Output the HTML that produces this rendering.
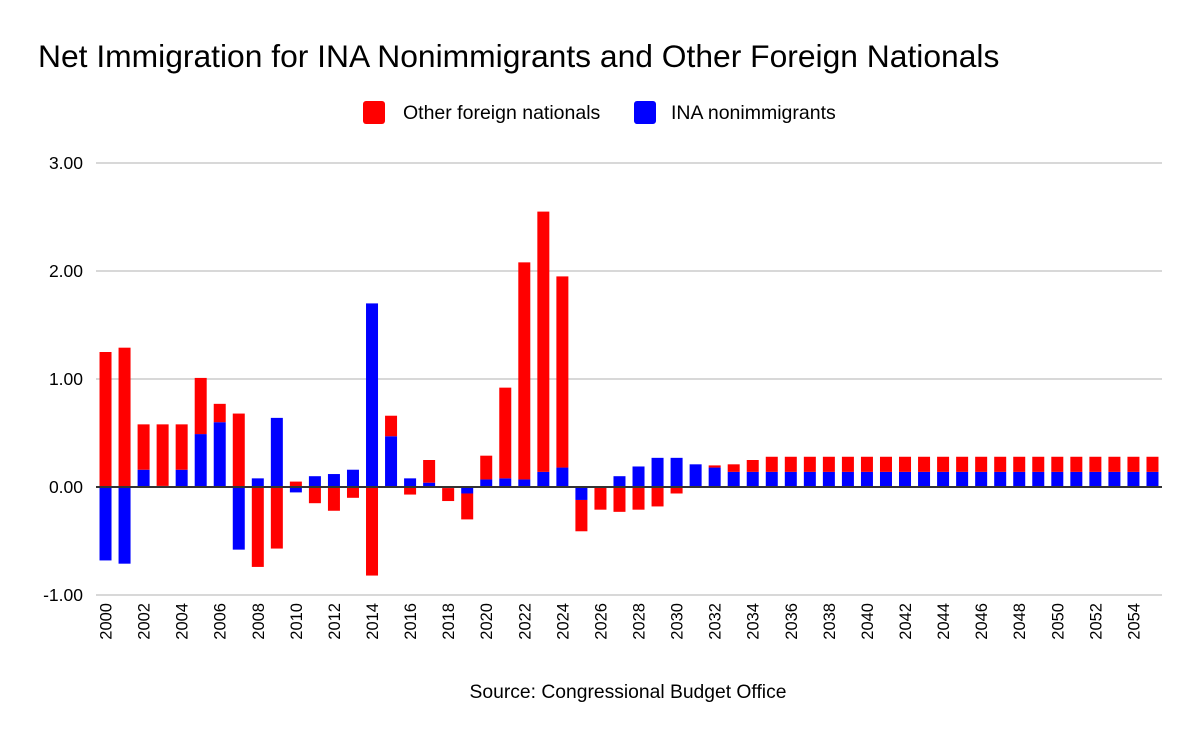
<!DOCTYPE html>
<html><head><meta charset="utf-8"><style>
body{margin:0;background:#fff;font-family:"Liberation Sans",Arial,sans-serif}
svg text{font-family:"Liberation Sans",Arial,sans-serif}
</style></head><body>
<svg id="chart" width="1200" height="742" viewBox="0 0 1200 742">
<rect width="1200" height="742" fill="#fff"/>
<text x="38" y="67" font-size="31.8" fill="#000">Net Immigration for INA Nonimmigrants and Other Foreign Nationals</text>
<g>
<rect x="363" y="101" width="22" height="23" rx="3" fill="#ff0000"/>
<text x="403" y="119" font-size="19.5">Other foreign nationals</text>
<rect x="634" y="101" width="22" height="23" rx="3" fill="#0000ff"/>
<text x="671" y="119" font-size="19.5">INA nonimmigrants</text>
</g>
<g id="grid"></g>
<g id="bars"></g>
<line x1="96" x2="1162" y1="487" y2="487" stroke="#333" stroke-width="2"/>
<g id="xlabels"></g>
<text x="628" y="698" font-size="19.3" text-anchor="middle">Source: Congressional Budget Office</text>
</svg>
<script>
const years = [];
for (let y = 2000; y <= 2055; y++) years.push(y);
const inaValues = [-0.68,-0.71,0.16,0.01,0.16,0.49,0.60,-0.58,0.08,0.64,-0.05,0.10,0.12,0.16,1.70,0.47,0.08,0.04,-0.01,-0.06,0.07,0.08,0.07,0.14,0.18,-0.12,0,0.10,0.19,0.27,0.27,0.21,0.18,0.14,0.14,0.14,0.14,0.14,0.14,0.14,0.14,0.14,0.14,0.14,0.14,0.14,0.14,0.14,0.14,0.14,0.14,0.14,0.14,0.14,0.14,0.14];
const otherValues = [1.25,1.29,0.42,0.57,0.42,0.52,0.17,0.68,-0.74,-0.57,0.05,-0.15,-0.22,-0.10,-0.82,0.19,-0.07,0.21,-0.12,-0.24,0.22,0.84,2.01,2.41,1.77,-0.29,-0.21,-0.23,-0.21,-0.18,-0.06,0,0.02,0.07,0.11,0.14,0.14,0.14,0.14,0.14,0.14,0.14,0.14,0.14,0.14,0.14,0.14,0.14,0.14,0.14,0.14,0.14,0.14,0.14,0.14,0.14];
const yTicks = [-1, 0, 1, 2, 3];
const yTickLabels = ["-1.00","0.00","1.00","2.00","3.00"];

const NS = "http://www.w3.org/2000/svg";
const plotL = 96, plotR = 1162;
const yScale = v => 487 - v * 108;
const step = (plotR - plotL) / years.length;
const xCenter = i => plotL + step * (i + 0.5);
const barW = 12;

const grid = document.getElementById('grid');
yTicks.forEach((t, i) => {
  if (t !== 0) {
    const l = document.createElementNS(NS, 'line');
    l.setAttribute('x1', plotL); l.setAttribute('x2', plotR);
    l.setAttribute('y1', yScale(t)); l.setAttribute('y2', yScale(t));
    l.setAttribute('stroke', '#cccccc'); l.setAttribute('stroke-width', '1.5');
    
    
    grid.appendChild(l);
  }
  const tx = document.createElementNS(NS, 'text');
  tx.setAttribute('x', 83); tx.setAttribute('y', yScale(t) + 6);
  tx.setAttribute('text-anchor', 'end'); tx.setAttribute('font-size', '17.5');
  tx.setAttribute('fill', '#000');
  tx.textContent = yTickLabels[i];
  
  
  grid.appendChild(tx);
});

const bars = document.getElementById('bars');
function addBar(i, v0, v1, color, name) {
  if (v0 === v1) return;
  const r = document.createElementNS(NS, 'rect');
  const a = yScale(v0), b = yScale(v1);
  r.setAttribute('x', xCenter(i) - barW / 2);
  r.setAttribute('y', Math.min(a, b));
  r.setAttribute('width', barW);
  r.setAttribute('height', Math.abs(a - b));
  r.setAttribute('fill', color);
  
  
  bars.appendChild(r);
}
years.forEach((yr, i) => {
  let pos = 0, neg = 0;
  const ina = inaValues[i], oth = otherValues[i];
  if (ina >= 0) { addBar(i, pos, pos + ina, '#0000ff', 'bar-ina-' + yr); pos += ina; }
  else { addBar(i, neg, neg + ina, '#0000ff', 'bar-ina-' + yr); neg += ina; }
  if (oth >= 0) { addBar(i, pos, pos + oth, '#ff0000', 'bar-other-' + yr); pos += oth; }
  else { addBar(i, neg, neg + oth, '#ff0000', 'bar-other-' + yr); neg += oth; }
});

const xl = document.getElementById('xlabels');
years.forEach((yr, i) => {
  if (yr % 2 !== 0) return;
  const t = document.createElementNS(NS, 'text');
  const x = xCenter(i) + 6, y = 603;
  t.setAttribute('x', x); t.setAttribute('y', y);
  t.setAttribute('transform', `rotate(-90 ${x} ${y})`);
  t.setAttribute('text-anchor', 'end'); t.setAttribute('font-size', '16.5');
  t.textContent = yr;
  
  
  xl.appendChild(t);
});
</script>
</body></html>
